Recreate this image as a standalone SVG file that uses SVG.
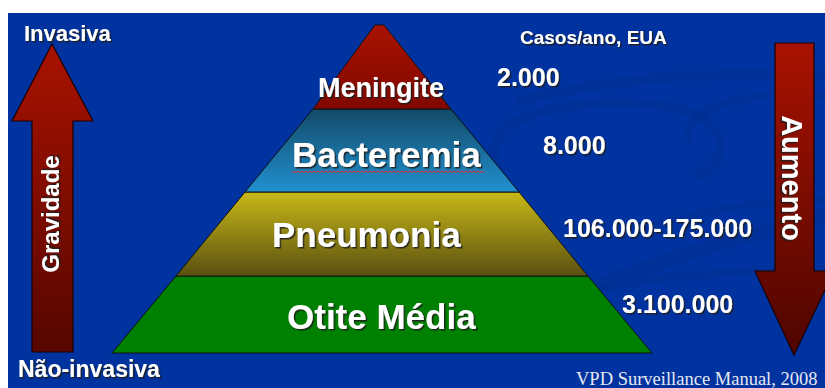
<svg xmlns="http://www.w3.org/2000/svg" width="825" height="388" viewBox="0 0 825 388">
  <defs>
    <linearGradient id="gRed" x1="0" y1="0" x2="0" y2="1">
      <stop offset="0" stop-color="#a81200"/>
      <stop offset="1" stop-color="#800800"/>
    </linearGradient>
    <linearGradient id="gBlue" x1="0" y1="0" x2="0" y2="1">
      <stop offset="0" stop-color="#124a68"/>
      <stop offset="1" stop-color="#2290d0"/>
    </linearGradient>
    <linearGradient id="gOlive" x1="0" y1="0" x2="0" y2="1">
      <stop offset="0" stop-color="#c8b818"/>
      <stop offset="1" stop-color="#5a5010"/>
    </linearGradient>
    <linearGradient id="gArrowUp" x1="0" y1="0" x2="0" y2="1">
      <stop offset="0" stop-color="#a81200"/>
      <stop offset="1" stop-color="#560600"/>
    </linearGradient>
    <linearGradient id="gArrowDown" x1="0" y1="0" x2="0" y2="1">
      <stop offset="0" stop-color="#a81200"/>
      <stop offset="1" stop-color="#4e0500"/>
    </linearGradient>
    <filter id="shadow" x="-10%" y="-20%" width="130%" height="150%">
      <feDropShadow dx="1.5" dy="1.5" stdDeviation="0.4" flood-color="#1a1a1a" flood-opacity="0.9"/>
    </filter>
  </defs>
  <style>
    .t { font-family: "Liberation Sans", Arial, sans-serif; font-weight: bold; fill: #ffffff; filter: url(#shadow); }
    .layer { stroke: #101010; stroke-width: 1; stroke-linejoin: round; }
    .arrow { stroke: #1a0000; stroke-width: 1.2; stroke-linejoin: miter; }
    .swirl { fill: none; stroke: #002a88; opacity: 0.3; stroke-linecap: round; }
  </style>

  <rect x="0" y="0" width="825" height="388" fill="#ffffff"/>
  <rect id="background" x="8" y="13" width="817" height="375" fill="#0033a0"/>

  <g id="swirls">
    <path class="swirl" stroke-width="14" d="M470 330 C 560 300, 680 250, 825 215"/>
    <path class="swirl" stroke-width="10" d="M520 100 C 600 80, 720 70, 825 75"/>
    <path class="swirl" stroke-width="9" d="M500 170 C 470 120, 560 95, 660 105 C 720 112, 740 150, 700 175"/>
    <path class="swirl" stroke-width="8" d="M690 140 C 680 110, 740 90, 825 95"/>
    <path class="swirl" stroke-width="8" d="M560 300 C 620 280, 700 270, 825 270"/>
    <path class="swirl" stroke-width="7" d="M640 230 C 700 210, 760 200, 825 200"/>
  </g>

  <g id="pyramid">
    <g id="node-otite">
      <polygon class="layer" points="176,276 588,276 652,353 112,353" fill="#008000"/>
      <text class="t" x="287" y="329" font-size="35">Otite Média</text>
    </g>
    <g id="node-pneumonia">
      <polygon class="layer" points="245,192 519,192 588,276 176,276" fill="url(#gOlive)"/>
      <text class="t" x="272" y="247" font-size="35">Pneumonia</text>
    </g>
    <g id="node-bacteremia">
      <polygon class="layer" points="313,109 451,109 519,192 245,192" fill="url(#gBlue)"/>
      <text class="t" x="292" y="167" font-size="35">Bacteremia</text>
      <path d="M292 172.5 l2 -1.5 l2 1.5 l2 -1.5 l2 1.5 l2 -1.5 l2 1.5 l2 -1.5 l2 1.5 l2 -1.5 l2 1.5 l2 -1.5 l2 1.5 l2 -1.5 l2 1.5 l2 -1.5 l2 1.5 l2 -1.5 l2 1.5 l2 -1.5 l2 1.5 l2 -1.5 l2 1.5 l2 -1.5 l2 1.5 l2 -1.5 l2 1.5 l2 -1.5 l2 1.5 l2 -1.5 l2 1.5 l2 -1.5 l2 1.5 l2 -1.5 l2 1.5 l2 -1.5 l2 1.5 l2 -1.5 l2 1.5 l2 -1.5 l2 1.5 l2 -1.5 l2 1.5 l2 -1.5 l2 1.5 l2 -1.5 l2 1.5 l2 -1.5 l2 1.5 l2 -1.5 l2 1.5 l2 -1.5 l2 1.5 l2 -1.5 l2 1.5 l2 -1.5 l2 1.5 l2 -1.5 l2 1.5 l2 -1.5 l2 1.5 l2 -1.5 l2 1.5 l2 -1.5 l2 1.5 l2 -1.5 l2 1.5 l2 -1.5 l2 1.5 l2 -1.5 l2 1.5 l2 -1.5 l2 1.5 l2 -1.5 l2 1.5 l2 -1.5 l2 1.5 l2 -1.5 l2 1.5 l2 -1.5 l2 1.5 l2 -1.5 l2 1.5 l2 -1.5 l2 1.5 l2 -1.5 l2 1.5 l2 -1.5 l2 1.5 l2 -1.5 l2 1.5 l2 -1.5 l2 1.5 l2 -1.5 l2 1.5 l2 -1.5 l2 1.5" fill="none" stroke="#e03030" stroke-width="1"/>
    </g>
    <g id="node-meningite">
      <polygon class="layer" points="375,25 384,25 451,109 313,109" fill="url(#gRed)"/>
      <text class="t" x="318" y="97" font-size="27">Meningite</text>
    </g>
  </g>

  <g id="connectors">
    <g id="arrow-gravidade">
      <polygon class="arrow" points="52,44 93,121 73,121 73,352 32,352 32,121 12,121" fill="url(#gArrowUp)"/>
      <text class="t" font-size="24" text-anchor="middle" transform="translate(59,214) rotate(-90)">Gravidade</text>
    </g>
    <g id="arrow-aumento">
      <polygon class="arrow" points="775,43 814,43 814,271 834,271 794,355 755,271 775,271" fill="url(#gArrowDown)"/>
      <text class="t" font-size="29" text-anchor="middle" transform="translate(782,178) rotate(90)">Aumento</text>
    </g>
  </g>

  <g id="labels">
    <text class="t" x="24" y="41" font-size="22">Invasiva</text>
    <text class="t" x="18" y="377" font-size="23">Não-invasiva</text>
    <text class="t" x="520" y="44" font-size="19">Casos/ano, EUA</text>
    <text class="t" x="497" y="86" font-size="25">2.000</text>
    <text class="t" x="543" y="154" font-size="25">8.000</text>
    <text class="t" x="563" y="237" font-size="25">106.000-175.000</text>
    <text class="t" x="622" y="313" font-size="25">3.100.000</text>
    <text x="576" y="385" font-family="'Liberation Serif', 'Times New Roman', serif" font-size="18.5" fill="#e6e8f0">VPD Surveillance Manual, 2008</text>
  </g>
</svg>
